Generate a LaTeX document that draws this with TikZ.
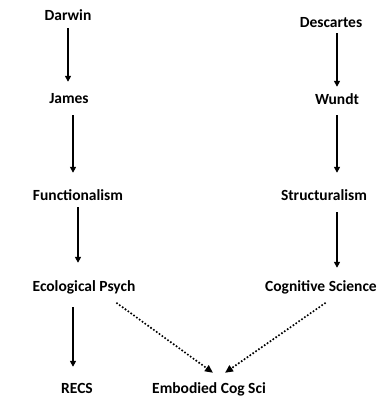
\documentclass[tikz,border=0pt]{standalone}
\usepackage{fontspec}
\setmainfont{Carlito}
\usetikzlibrary{arrows.meta}
\tikzset{
    lbl/.style={font=\bfseries\fontsize{15.5}{18}\selectfont, text height=11pt, text depth=3pt, inner sep=2pt},
    arr/.style={line width=1.6pt, -{Triangle[length=6pt,width=6pt]}},
    dotarr/.style={line width=2.3pt, line cap=round, dash pattern=on 0pt off 3.5pt, -{Triangle[length=8pt,width=7pt,line cap=butt]}}
}
\begin{document}
\begin{tikzpicture}[x=1pt,y=-1pt]
    \useasboundingbox (0,0) rectangle (381,401);
    \node[lbl] (darwin) at (68,17) {Darwin};
    \node[lbl] (james) at (69,99) {James};
    \node[lbl] (func) at (78,196) {Functionalism};
    \node[lbl] (ecol) at (84,287) {Ecological Psych};
    \node[lbl] (recs) at (77,389) {RECS};
    \node[lbl] (emb) at (209,389) {Embodied Cog Sci};
    \node[lbl] (descartes) at (331,24) {Descartes};
    \node[lbl] (wundt) at (337,100) {Wundt};
    \node[lbl] (struct) at (324,196) {Structuralism};
    \node[lbl] (cogsci) at (321,287) {Cognitive Science};
    \draw[arr, shorten <=2pt, shorten >=8pt] (darwin.south -| 68,0) -- (james.north -| 68,0);
    \draw[arr, shorten <=7pt, shorten >=14pt] (james.south -| 73,0) -- (func.north -| 73,0);
    \draw[arr, shorten <=2pt, shorten >=15pt] (func.south -| 78,0) -- (ecol.north -| 78,0);
    \draw[arr, shorten <=11pt, shorten >=13pt] (ecol.south -| 73,0) -- (recs.north -| 73,0);
    \draw[arr, shorten >=4pt] (descartes.south -| 337,0) -- (wundt.north -| 337,0);
    \draw[arr, shorten <=6pt, shorten >=14pt] (wundt.south -| 337,0) -- (struct.north -| 337,0);
    \draw[arr, shorten <=7pt, shorten >=10pt] (struct.south -| 337,0) -- (cogsci.north -| 337,0);
    \draw[dotarr] ([xshift=33pt,yshift=-7pt]ecol.south) -- ([xshift=4pt,yshift=7pt]emb.north);
    \draw[dotarr] ([xshift=4pt,yshift=-7pt]cogsci.south) -- ([xshift=16pt,yshift=7pt]emb.north);
\end{tikzpicture}
\end{document}
